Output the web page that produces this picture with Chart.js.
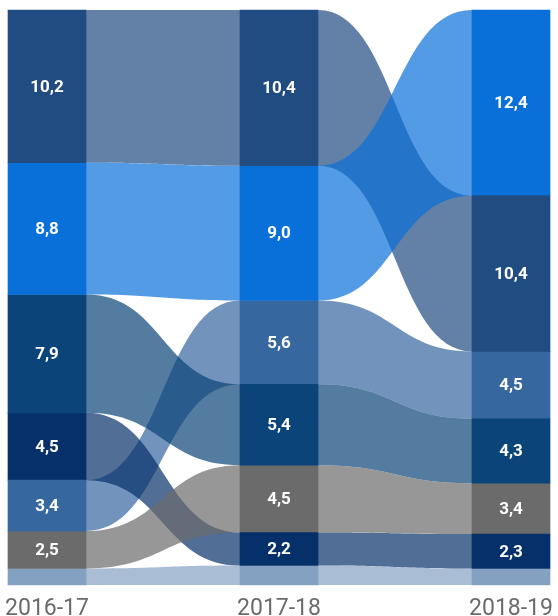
<!DOCTYPE html>
<html><head><meta charset="utf-8">
<script src="https://cdn.jsdelivr.net/npm/chart.js@4.4.0/dist/chart.umd.min.js"></script>
<style>html,body{margin:0;padding:0;background:#fff;overflow:hidden;}</style>
</head><body>
<canvas id="c" width="558" height="616"></canvas>
<script>
// ---- data ----
const years = ['2016-17', '2017-18', '2018-19'];
const seriesNames = ['Serie 1', 'Serie 2', 'Serie 3', 'Serie 4', 'Serie 5', 'Serie 6', 'Resto'];
const serie1 = [10.2, 10.4, 10.4];
const serie2 = [8.8, 9.0, 12.4];
const serie3 = [7.9, 5.4, 4.3];
const serie4 = [3.4, 5.6, 4.5];
const serie5 = [4.5, 2.2, 2.3];
const serie6 = [2.5, 4.5, 3.4];
const resto  = [1.1, 1.3, 1.1];

// ---- styles ----
const barColors  = ['#214c82', '#0a70d9', '#0a4478', '#36679f', '#06306a', '#6b6b6b', '#84a1c2'];
const flowOrder  = [6, 3, 0, 1, 2, 4, 5];
const flowAlpha  = 0.7;

const values = [serie1, serie2, serie3, serie4, serie5, serie6, resto];
const restIndex = values.length - 1;

// stacked ranges per column, ordered by value (largest on top), remainder at the bottom
const ranges = values.map(() => []);
years.forEach((yr, j) => {
  const order = values.map((v, k) => k).filter(k => k !== restIndex)
    .sort((a, b) => values[b][j] - values[a][j]);
  order.push(restIndex);
  let acc = 0;
  order.forEach(k => { ranges[k][j] = [acc, acc + values[k][j]]; acc += values[k][j]; });
});
const total = Math.max(...years.map((y, j) => values.reduce((s, v) => s + v[j], 0)));

const fmt = v => v.toFixed(1).replace('.', ',');

const flowPlugin = {
  id: 'flows',
  beforeDatasetsDraw(chart) {
    const ctx = chart.ctx, ys = chart.scales.y;
    ctx.save();
    flowOrder.forEach(k => {
      const meta = chart.getDatasetMeta(k);
      for (let j = 0; j < years.length - 1; j++) {
        const b0 = meta.data[j], b1 = meta.data[j + 1];
        const x0 = b0.x + b0.width / 2, x1 = b1.x - b1.width / 2;
        const t0 = ys.getPixelForValue(ranges[k][j][0]), u0 = ys.getPixelForValue(ranges[k][j][1]);
        const t1 = ys.getPixelForValue(ranges[k][j + 1][0]), u1 = ys.getPixelForValue(ranges[k][j + 1][1]);
        const xm = (x0 + x1) / 2;
        ctx.beginPath();
        ctx.moveTo(x0, t0);
        ctx.bezierCurveTo(xm, t0, xm, t1, x1, t1);
        ctx.lineTo(x1, u1);
        ctx.bezierCurveTo(xm, u1, xm, u0, x0, u0);
        ctx.closePath();
        ctx.globalAlpha = flowAlpha;
        ctx.fillStyle = barColors[k];
        ctx.fill();
      }
    });
    ctx.restore();
  }
};

const labelPlugin = {
  id: 'segLabels',
  afterDatasetsDraw(chart) {
    const ctx = chart.ctx;
    ctx.save();
    ctx.fillStyle = '#ffffff';
    ctx.font = 'bold 17px Roboto, "DejaVu Sans", sans-serif';
    ctx.textAlign = 'center';
    ctx.textBaseline = 'middle';
    values.forEach((v, k) => {
      if (k === restIndex) return;
      const meta = chart.getDatasetMeta(k);
      meta.data.forEach((bar, j) => {
        ctx.fillText(fmt(v[j]), bar.x, (bar.y + bar.base) / 2 + 1);
      });
    });
    ctx.restore();
  }
};

new Chart(document.getElementById('c'), {
  type: 'bar',
  data: {
    labels: years,
    datasets: values.map((v, k) => ({
      label: seriesNames[k],
      data: ranges[k],
      backgroundColor: barColors[k],
      borderWidth: 0,
      grouped: false,
      barThickness: 78,
      clip: false
    }))
  },
  options: {
    responsive: false,
    animation: false,
    devicePixelRatio: 1,
    layout: { padding: { left: 47, right: 47, top: 10, bottom: 0 } },
    plugins: { legend: { display: false }, tooltip: { enabled: false } },
    scales: {
      x: {
        type: 'category',
        offset: false,
        grid: { display: false, drawTicks: false },
        border: { display: false },
        ticks: { color: '#6b6b6b', font: { family: 'Roboto', size: 23 }, padding: 10, maxRotation: 0, autoSkip: false },
        afterFit(scale) { scale.height = 31; scale.paddingLeft = 0; scale.paddingRight = 0; }
      },
      y: { display: false, reverse: true, min: 0, max: total }
    }
  },
  plugins: [flowPlugin, labelPlugin]
});
</script>
</body></html>
